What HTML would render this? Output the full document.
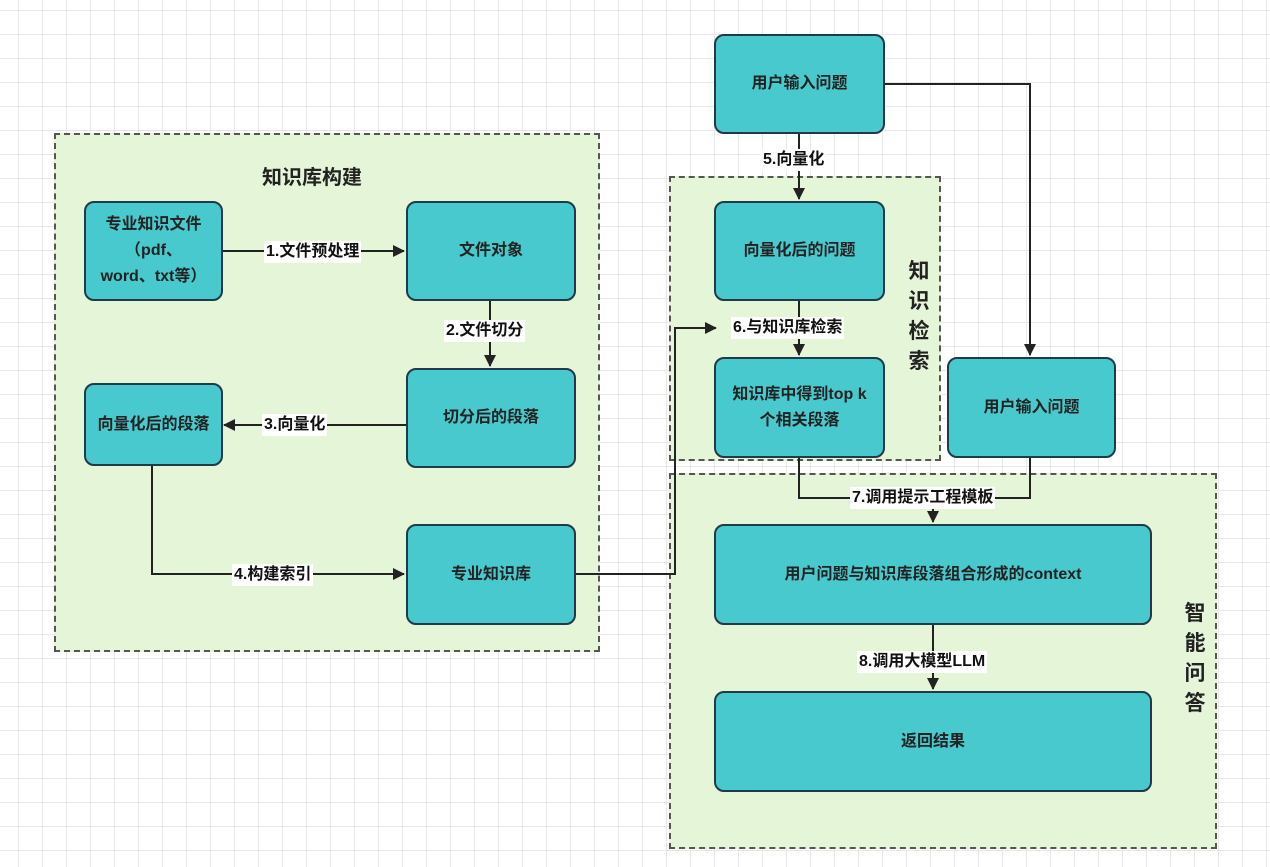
<!DOCTYPE html>
<html><head><meta charset="utf-8"><style>
body{margin:0;width:1270px;height:867px;overflow:hidden;background:#fff;font-family:"Liberation Sans","Noto Sans CJK SC",sans-serif;}
.grid{position:absolute;left:0;top:0;width:1270px;height:867px;background-image:linear-gradient(#e8e8e8 1px,transparent 1px),linear-gradient(90deg,#e8e8e8 1px,transparent 1px);background-size:24px 24px;background-position:18px 10px;}
.grp{position:absolute;background:#e5f5d8;border:2px dashed #555;box-sizing:border-box;}
.n{position:absolute;background:#48c9cd;border:2px solid #1f3a48;border-radius:10px;box-sizing:border-box;display:flex;align-items:center;justify-content:center;text-align:center;font-weight:bold;font-size:16px;color:#222;line-height:26px;}
.l{position:absolute;background:#fff;font-weight:bold;font-size:16px;color:#111;padding:0 2px;line-height:22px;white-space:nowrap;}
.t{position:absolute;font-weight:bold;font-size:20px;color:#222;}
.v{position:absolute;font-weight:bold;font-size:21px;color:#222;width:24px;line-height:30px;text-align:center;}
</style></head><body>
<div class="grid"></div>
<div class="grp" style="left:54px;top:133px;width:546px;height:519px"></div>
<div class="grp" style="left:669px;top:176px;width:272px;height:285px"></div>
<div class="grp" style="left:669px;top:473px;width:548px;height:376px"></div>
<div class="t" style="left:262px;top:161px">知识库构建</div>
<div class="v" style="left:907px;top:257px">知<br>识<br>检<br>索</div>
<div class="v" style="left:1183px;top:599px">智<br>能<br>问<br>答</div>
<svg style="position:absolute;left:0;top:0" width="1270" height="867">
<defs><marker id="a" markerWidth="12" markerHeight="12" refX="11" refY="6" orient="auto" markerUnits="userSpaceOnUse"><path d="M0,0L12,6L0,12z" fill="#222"/></marker></defs>
<g stroke="#222" stroke-width="2" fill="none">
<path d="M222,251H404" marker-end="url(#a)"/>
<path d="M490,300V366" marker-end="url(#a)"/>
<path d="M406,425H224" marker-end="url(#a)"/>
<path d="M152,465V574H404" marker-end="url(#a)"/>
<path d="M575,574H675V328H716" marker-end="url(#a)"/>
<path d="M799,133V199" marker-end="url(#a)"/>
<path d="M799,300V355" marker-end="url(#a)"/>
<path d="M884,84H1030V355" marker-end="url(#a)"/>
<path d="M799,457V498H1030V457"/>
<path d="M933,498V522" marker-end="url(#a)"/>
<path d="M933,624V689" marker-end="url(#a)"/>
</g></svg>
<div class="n" style="left:84px;top:201px;width:139px;height:100px">专业知识文件<br>（pdf、<br>word、txt等）</div>
<div class="n" style="left:406px;top:201px;width:170px;height:100px">文件对象</div>
<div class="n" style="left:406px;top:368px;width:170px;height:100px">切分后的段落</div>
<div class="n" style="left:84px;top:383px;width:139px;height:83px">向量化后的段落</div>
<div class="n" style="left:406px;top:524px;width:170px;height:101px">专业知识库</div>
<div class="n" style="left:714px;top:34px;width:171px;height:100px">用户输入问题</div>
<div class="n" style="left:714px;top:201px;width:171px;height:100px">向量化后的问题</div>
<div class="n" style="left:714px;top:357px;width:171px;height:101px">知识库中得到top k<br>个相关段落</div>
<div class="n" style="left:947px;top:357px;width:169px;height:101px">用户输入问题</div>
<div class="n" style="left:714px;top:524px;width:438px;height:101px">用户问题与知识库段落组合形成的context</div>
<div class="n" style="left:714px;top:691px;width:438px;height:101px">返回结果</div>
<div class="l" style="left:264px;top:241px">1.文件预处理</div>
<div class="l" style="left:444px;top:320px">2.文件切分</div>
<div class="l" style="left:262px;top:414px">3.向量化</div>
<div class="l" style="left:232px;top:564px">4.构建索引</div>
<div class="l" style="left:761px;top:149px">5.向量化</div>
<div class="l" style="left:731px;top:317px">6.与知识库检索</div>
<div class="l" style="left:850px;top:487px">7.调用提示工程模板</div>
<div class="l" style="left:857px;top:651px">8.调用大模型LLM</div>
</body></html>
